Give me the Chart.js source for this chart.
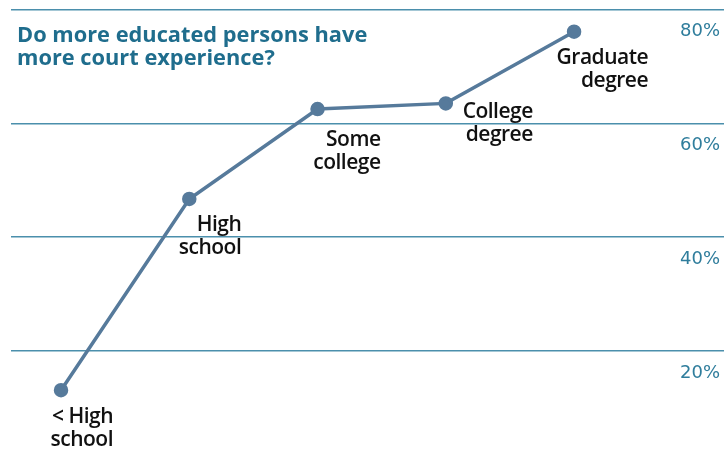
<!DOCTYPE html>
<html>
<head>
<meta charset="utf-8">
<script src="https://cdn.jsdelivr.net/npm/chart.js@4/dist/chart.umd.min.js"></script>
<style>
  html, body { margin: 0; padding: 0; background: #fff; }
  #wrap { position: relative; width: 724px; height: 458px; }
</style>
</head>
<body>
<div id="wrap"><canvas id="myChart"></canvas></div>
<script>
// data
const categories = [
  ["< High", "school"],
  ["High", "school"],
  ["Some", "college"],
  ["College", "degree"],
  ["Graduate", "degree"],
];
const shareWithCourtExperience = [13.1, 46.7, 62.5, 63.5, 76.1];
const tickValues = [20, 40, 60, 80];
const title = ["Do more educated persons have", "more court experience?"];

// where each label sits relative to its point (right edge, first baseline)
const labelNudge = [[52, 33], [52, 32], [63, 37], [87, 15], [74, 32]];

const overlay = {
  id: "overlay",
  afterDatasetsDraw(chart) {
    const { ctx } = chart;
    const meta = chart.getDatasetMeta(0);
    const y = chart.scales.y;
    ctx.save();

    // category labels next to the points
    ctx.font = "600 21px 'Open Sans'";
    ctx.letterSpacing = "-0.5px";
    ctx.fillStyle = "#111";
    ctx.textAlign = "right";
    ctx.textBaseline = "alphabetic";
    meta.data.forEach((pt, i) => {
      const [dx, dy] = labelNudge[i];
      categories[i].forEach((line, j) => {
        ctx.fillText(line, pt.x + dx, pt.y + dy + j * 23);
      });
    });

    // tick labels under their grid lines
    ctx.letterSpacing = "0px";
    ctx.font = "18px 'DejaVu Sans'";
    ctx.fillStyle = "#2f7d9c";
    ctx.textBaseline = "middle";
    tickValues.forEach((v) => {
      ctx.fillText(v + "%", 720, y.getPixelForValue(v) + 22);
    });

    // title
    ctx.font = "bold 21.8px 'Open Sans'";
    ctx.fillStyle = "#1f6d8d";
    ctx.textAlign = "left";
    ctx.textBaseline = "alphabetic";
    title.forEach((line, j) => ctx.fillText(line, 17, 42 + j * 23));
    ctx.restore();
  },
};

const myChart = document.querySelector("#myChart");
const chart = new Chart(myChart, {
  type: "line",
  data: {
    datasets: [
      {
        data: shareWithCourtExperience.map((v, i) => ({ x: i, y: v })),
        borderColor: "#567a9b",
        backgroundColor: "#567a9b",
        borderWidth: 3.5,
        pointRadius: 5.5,
        pointHoverRadius: 5.5,
        tension: 0,
        clip: false,
      },
    ],
  },
  options: {
    responsive: true,
    maintainAspectRatio: false,
    animation: false,
    layout: { autoPadding: false, padding: { left: 11, right: 0, top: 0, bottom: 0 } },
    plugins: { legend: { display: false }, tooltip: { enabled: false } },
    scales: {
      x: {
        type: "linear",
        display: false,
        min: -0.39,
        max: 5.169,
      },
      y: {
        position: "right",
        min: 1.18,
        max: 81.67,
        afterBuildTicks(axis) {
          axis.ticks = tickValues.map((v) => ({ value: v }));
        },
        border: { display: false },
        grid: { color: "#4b8fac", lineWidth: 1.5, drawTicks: false },
        ticks: { display: false },
      },
    },
  },
  plugins: [overlay],
});
</script>
</body>
</html>
